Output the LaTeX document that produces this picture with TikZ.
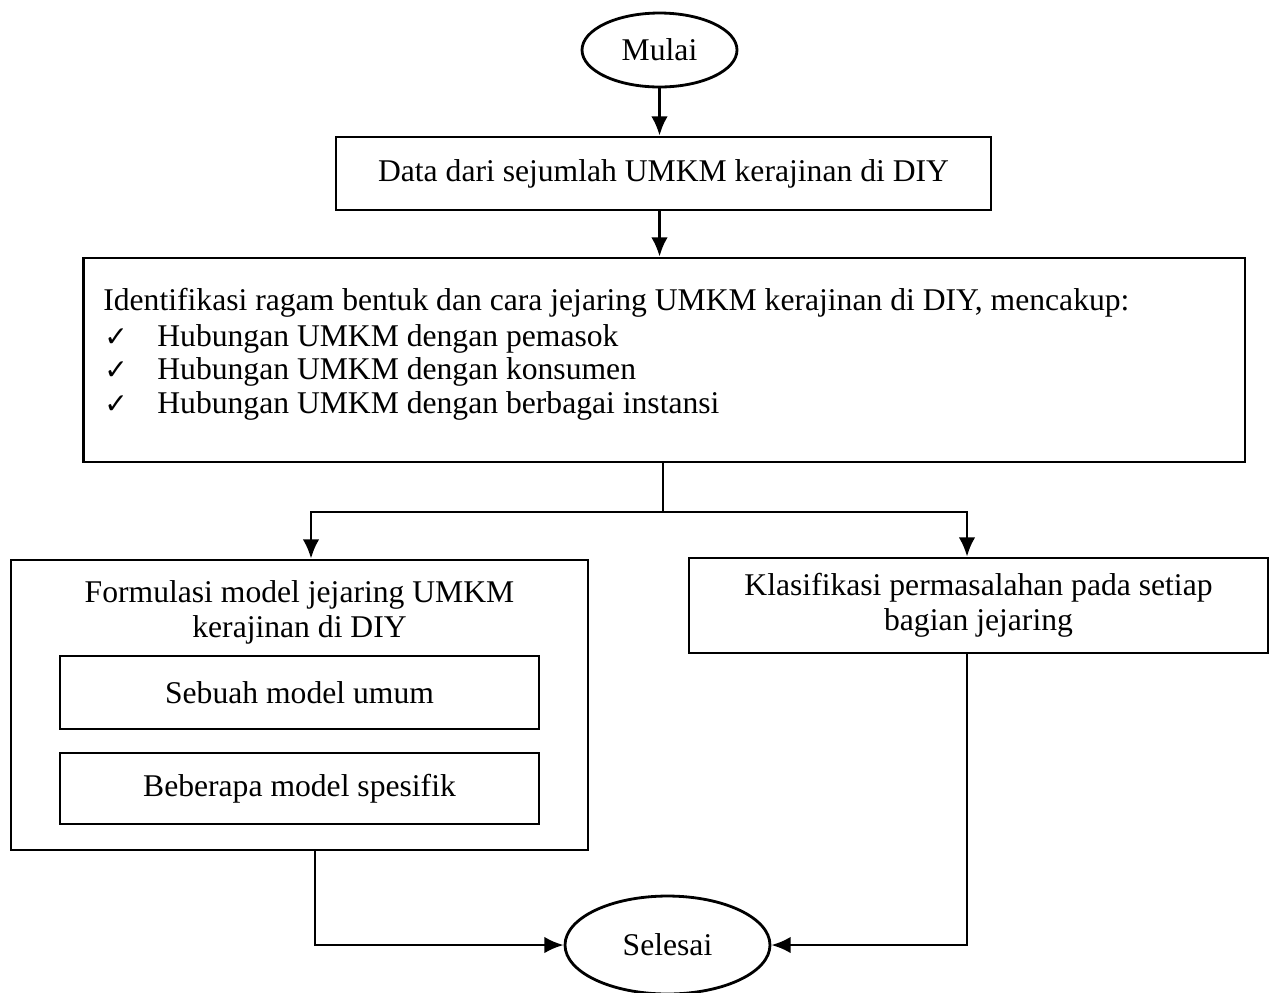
\documentclass[tikz,border=0pt]{standalone}
\usepackage{fontspec}
\setmainfont{Liberation Serif}
\newfontfamily\dejavu{DejaVu Sans}
\usetikzlibrary{arrows.meta,shapes.geometric}
\begin{document}
\begin{tikzpicture}[x=0.02cm,y=-0.02cm,
  txt/.style={font=\fontsize{18}{20}\selectfont, inner sep=0pt},
  chk/.style={font=\dejavu\fontsize{16}{18}\selectfont, inner sep=0pt},
  boxn/.style={draw, line width=1.6pt, rectangle, inner sep=0pt, font=\fontsize{18}{20}\selectfont, align=center},
  ovaln/.style={draw, line width=1.6pt, ellipse, inner sep=0pt, font=\fontsize{18}{20}\selectfont},
  conn/.style={line width=1.6pt},
  arr/.style={line width=1.6pt, -{Latex[length=11pt,width=9.5pt]}}]
\useasboundingbox (0,0) rectangle (1270,992);
% nodes
\node[ovaln, minimum width=3.1cm, minimum height=1.48cm] (mulai) at (659.5,50) {Mulai};
\node[boxn, minimum width=13.1cm, minimum height=1.46cm] (data) at (663.5,173.5) {Data dari sejumlah UMKM kerajinan di DIY};
\node[boxn, minimum width=23.24cm, minimum height=4.08cm] (ident) at (664,360) {};
\node[txt, anchor=base west] (l0) at (103,310) {Identifikasi ragam bentuk dan cara jejaring UMKM kerajinan di DIY, mencakup:};
\node[chk, anchor=base west] (c1) at (104,346) {✓};
\node[txt, anchor=base west] (l1) at (157,346) {Hubungan UMKM dengan pemasok};
\node[chk, anchor=base west] (c2) at (104,379) {✓};
\node[txt, anchor=base west] (l2) at (157,379) {Hubungan UMKM dengan konsumen};
\node[chk, anchor=base west] (c3) at (104,413) {✓};
\node[txt, anchor=base west] (l3) at (157,413) {Hubungan UMKM dengan berbagai instansi};
\node[boxn, minimum width=11.54cm, minimum height=5.8cm] (form) at (299.5,705) {};
\node[txt, anchor=base] (f1) at (299.5,602) {Formulasi model jejaring UMKM};
\node[txt, anchor=base] (f2) at (299.5,637) {kerajinan di DIY};
\node[boxn, minimum width=9.58cm, minimum height=1.46cm] (umum) at (299.5,692.5) {Sebuah model umum};
\node[boxn, minimum width=9.58cm, minimum height=1.42cm] (spes) at (299.5,788.5) {Beberapa model spesifik};
\node[boxn, minimum width=11.58cm, minimum height=1.9cm] (klas) at (978.5,605.5) {Klasifikasi permasalahan pada setiap\\bagian jejaring};
\node[ovaln, minimum width=4.1cm, minimum height=1.96cm] (selesai) at (667.5,945) {Selesai};
% connectors
\coordinate (split) at (663,512);
\draw[arr] (mulai.south) -- (mulai.south |- data.north);
\draw[arr] (mulai.south |- data.south) -- (mulai.south |- ident.north);
\draw[conn] (ident.south -| split) -- (split);
\draw[arr] (split) -| (311,0 |- form.north);
\draw[arr] (split) -| (967,0 |- klas.north);
\draw[arr] (315,0 |- form.south) |- (selesai.west);
\draw[arr] (967,0 |- klas.south) |- (selesai.east);
\end{tikzpicture}
\end{document}
